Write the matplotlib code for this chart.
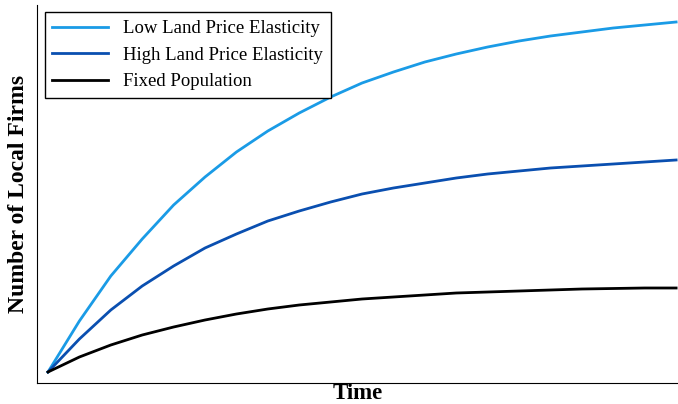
import matplotlib.pyplot as plt

# values (time 0..10 in half steps, firms relative to start)
time = [0, 0.5, 1, 1.5, 2, 2.5, 3, 3.5, 4, 4.5, 5,
        5.5, 6, 6.5, 7, 7.5, 8, 8.5, 9, 9.5, 10]
low_elast = [0, 51, 96, 133, 167, 195, 220, 241, 259, 275, 289,
             300, 310, 318, 325, 331, 336, 340, 344, 347, 350]
high_elast = [0, 33, 62, 86, 106, 124, 138, 151, 161, 170, 178,
              184, 189, 194, 198, 201, 204, 206, 208, 210, 212]
fixed_pop = [0, 15, 27, 37, 45, 52, 58, 63, 67, 70, 73,
             75, 77, 79, 80, 81, 82, 83, 83.5, 84, 84]

plt.rcParams["font.family"] = ["Liberation Serif", "DejaVu Serif"]

fig = plt.figure(figsize=(6.78, 4.04), dpi=100)
ax = fig.add_axes([37 / 678, 21 / 404, 641 / 678, 378 / 404])

ax.plot(time, low_elast, color="#1a9be6", lw=2, label="Low Land Price Elasticity")
ax.plot(time, high_elast, color="#0a4fb0", lw=2, label="High Land Price Elasticity")
ax.plot(time, fixed_pop, color="black", lw=2, label="Fixed Population")

ax.set_xlim(-0.175, 10.03)
ax.set_ylim(-11, 367)
ax.set_xticks([])
ax.set_yticks([])
for s in ["top", "right"]:
    ax.spines[s].set_visible(False)

ax.set_xlabel("Time", fontsize=16.5, fontweight="bold", labelpad=0)
ax.set_ylabel("Number of Local Firms", fontsize=17, fontweight="bold", labelpad=6)

leg = ax.legend(loc="upper left", fontsize=13.5, fancybox=False, edgecolor="black",
                framealpha=1, borderaxespad=0.4, handlelength=3)
leg.get_frame().set_linewidth(1)

fig.savefig("out.png", dpi=100)
